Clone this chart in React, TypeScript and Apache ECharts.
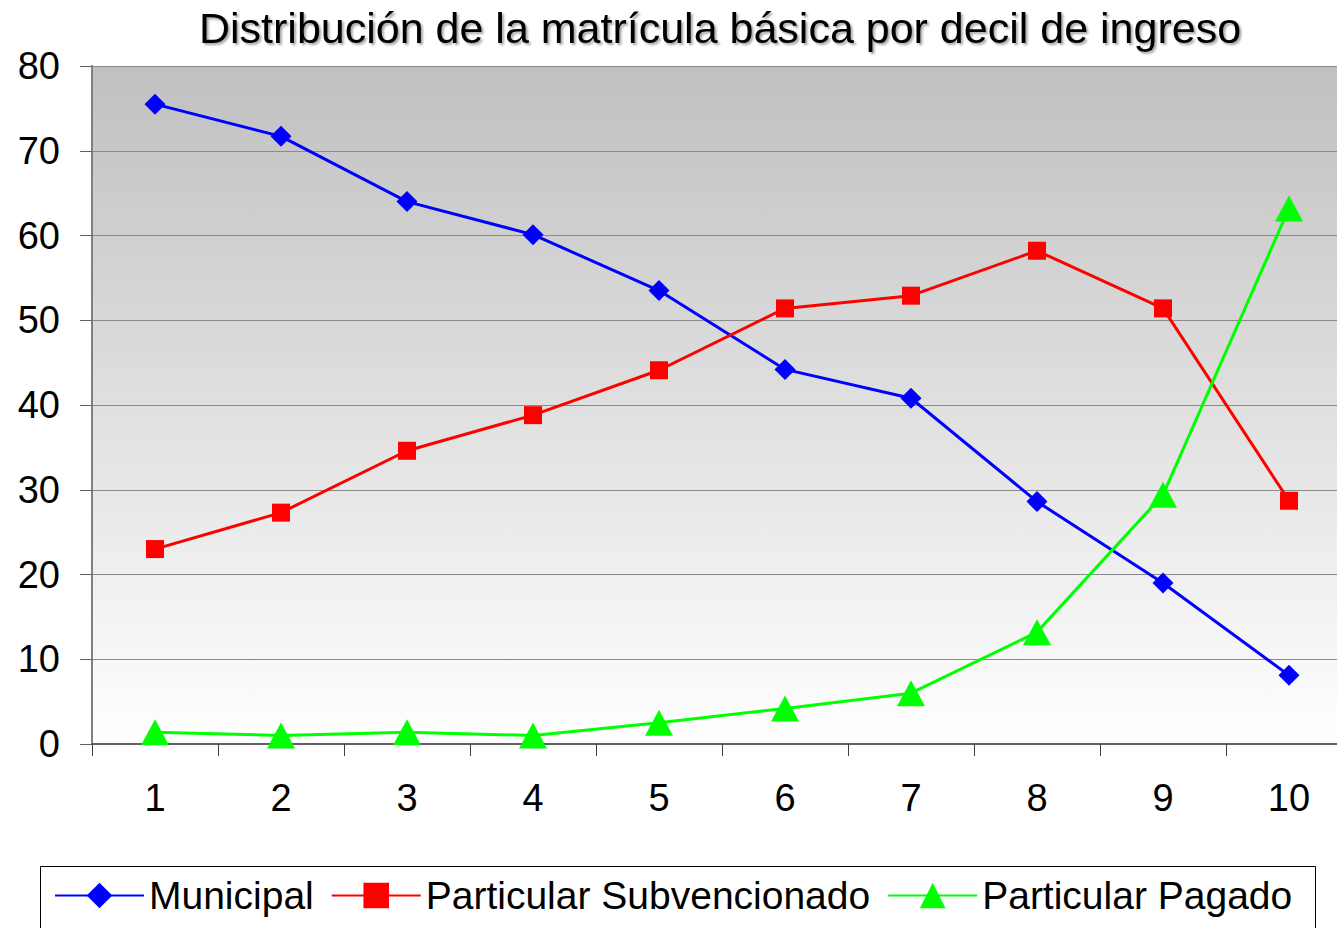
import React, { useEffect, useRef } from "react";
import * as echarts from "echarts";

const TITLE = "Distribución de la matrícula básica por decil de ingreso";
const deciles = ["1", "2", "3", "4", "5", "6", "7", "8", "9", "10"];
const municipal = [75.5, 71.7, 64.0, 60.1, 53.5, 44.2, 40.8, 28.6, 19.0, 8.1];
const subvencionado = [23.0, 27.3, 34.6, 38.8, 44.1, 51.4, 52.9, 58.2, 51.4, 28.7];
const pagado = [1.4, 1.0, 1.4, 1.0, 2.5, 4.2, 6.0, 13.2, 29.4, 63.2];
const seriesNames = ["Municipal", "Particular Subvencionado", "Particular Pagado"];

const FONT = "'Liberation Sans', Arial, sans-serif";

export default function App() {
  const ref = useRef<HTMLDivElement>(null);
  useEffect(() => {
    document.body.style.margin = "0";
    const chart = echarts.init(ref.current!, null, { renderer: "svg" });
    chart.setOption({
      animation: false,
      backgroundColor: "#ffffff",
      textStyle: { fontFamily: FONT },
      grid: {
        left: 92,
        top: 66,
        right: 0,
        bottom: 184,
        show: true,
        borderWidth: 0,
        backgroundColor: new echarts.graphic.LinearGradient(0, 0, 0, 1, [
          { offset: 0, color: "#c0c0c0" },
          { offset: 1, color: "#ffffff" },
        ]),
      },
      graphic: [
        {
          type: "text",
          x: 720,
          y: 28,
          style: {
            text: TITLE,
            align: "center",
            verticalAlign: "middle",
            font: `43px ${FONT}`,
            fill: "#000",
            textShadowColor: "rgba(0,0,0,0.35)",
            textShadowOffsetX: 2,
            textShadowOffsetY: 2,
            textShadowBlur: 2,
          },
          z: 10,
        },
        {
          type: "rect",
          shape: { x: 40.5, y: 866.5, width: 1275, height: 80 },
          style: { fill: "#ffffff", stroke: "#000000", lineWidth: 1 },
          z: 0,
        },
      ],
      legend: {
        data: seriesNames,
        left: 54,
        top: 876,
        itemWidth: 89,
        itemHeight: 32,
        itemGap: 17,
        padding: 0,
        z: 5,
        textStyle: { fontSize: 39, color: "#000", fontFamily: FONT },
      },
      xAxis: {
        type: "category",
        data: deciles,
        boundaryGap: true,
        axisLine: { lineStyle: { color: "#606060", width: 2 } },
        axisTick: { show: true, inside: false, length: 12, lineStyle: { color: "#404040" } },
        axisLabel: { fontSize: 38, color: "#000", margin: 35, fontFamily: FONT },
        splitLine: { show: false },
      },
      yAxis: {
        type: "value",
        min: 0,
        max: 80,
        interval: 10,
        axisLine: { show: true, lineStyle: { color: "#808080", width: 2 } },
        axisTick: { show: true, inside: false, length: 12, lineStyle: { color: "#606060" } },
        axisLabel: { fontSize: 38, color: "#000", margin: 32, fontFamily: FONT },
        splitLine: { show: true, lineStyle: { color: "#8a8a8a", width: 1 } },
      },
      series: [
        {
          name: seriesNames[0],
          type: "line",
          data: municipal,
          symbol: "diamond",
          symbolSize: 21,
          itemStyle: { color: "#0000ff" },
          lineStyle: { color: "#0000ff", width: 3 },
        },
        {
          name: seriesNames[1],
          type: "line",
          data: subvencionado,
          symbol: "rect",
          symbolSize: 18,
          itemStyle: { color: "#ff0000" },
          lineStyle: { color: "#ff0000", width: 3 },
        },
        {
          name: seriesNames[2],
          type: "line",
          data: pagado,
          symbol: "triangle",
          symbolSize: [28, 26],
          itemStyle: { color: "#00ff00" },
          lineStyle: { color: "#00ff00", width: 3 },
        },
      ],
    });
    return () => chart.dispose();
  }, []);
  return (
    <div style={{ width: 1337, height: 928, position: "absolute", left: 0, top: 0, overflow: "hidden" }}>
      <div ref={ref} style={{ width: 1352, height: 928 }} />
    </div>
  );
}
